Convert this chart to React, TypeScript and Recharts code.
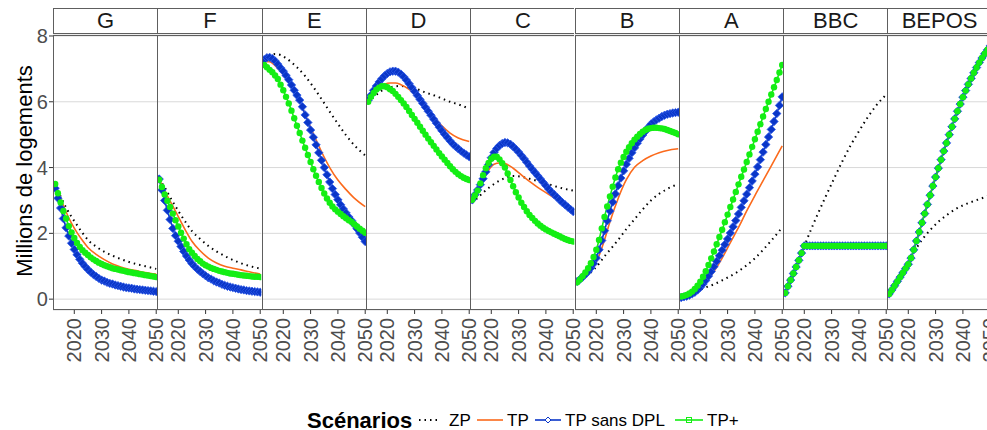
import { LineChart, Line, XAxis, YAxis, CartesianGrid } from 'recharts';

const FONT = '"Liberation Sans", Arial, Helvetica, sans-serif';

// yearly points (markers) and sparser points for the plain lines
const years = [
  2013, 2014, 2015, 2016, 2017, 2018, 2019, 2020, 2021, 2022,
  2023, 2024, 2025, 2026, 2027, 2028, 2029, 2030, 2031, 2032,
  2033, 2034, 2035, 2036, 2037, 2038, 2039, 2040, 2041, 2042,
  2043, 2044, 2045, 2046, 2047, 2048, 2049, 2050,
];
const lineYears = [2013, 2015, 2017, 2019, 2021, 2023, 2025, 2028, 2031, 2034, 2037, 2040, 2043, 2046, 2050];
const xTicks = [2020, 2030, 2040, 2050];
const yTicks = [0, 2, 4, 6, 8];

// G
const zpG = [3.45, 3.12, 2.78, 2.5, 2.25, 2.01, 1.8, 1.6, 1.44, 1.32, 1.22, 1.13, 1.06, 1.0, 0.92];
const tpG = [3.45, 3.05, 2.65, 2.3, 2.02, 1.78, 1.57, 1.36, 1.2, 1.07, 0.98, 0.91, 0.86, 0.81, 0.76];
const dplG = [
  3.37, 3.07, 2.77, 2.45, 2.17, 1.92, 1.7, 1.51, 1.35, 1.21,
  1.09, 0.99, 0.9, 0.82, 0.75, 0.69, 0.63, 0.58, 0.55, 0.51,
  0.48, 0.46, 0.43, 0.41, 0.39, 0.37, 0.35, 0.34, 0.33, 0.31,
  0.3, 0.29, 0.28, 0.27, 0.26, 0.25, 0.24, 0.23,
];
const tppG = [
  3.5, 3.22, 2.94, 2.68, 2.45, 2.22, 2.03, 1.86, 1.71, 1.59,
  1.49, 1.41, 1.34, 1.27, 1.21, 1.16, 1.11, 1.07, 1.03, 1.0,
  0.97, 0.94, 0.92, 0.9, 0.88, 0.86, 0.84, 0.82, 0.81, 0.79,
  0.78, 0.76, 0.75, 0.73, 0.72, 0.7, 0.69, 0.67,
];

// F
const zpF = [3.65, 3.4, 3.1, 2.82, 2.55, 2.3, 2.07, 1.83, 1.62, 1.45, 1.31, 1.19, 1.09, 1.01, 0.93];
const tpF = [3.65, 3.3, 2.98, 2.67, 2.35, 2.04, 1.76, 1.47, 1.25, 1.1, 1.0, 0.94, 0.89, 0.83, 0.76];
const dplF = [
  3.65, 3.32, 3.0, 2.7, 2.42, 2.15, 1.93, 1.76, 1.6, 1.45,
  1.31, 1.19, 1.08, 0.99, 0.91, 0.84, 0.77, 0.71, 0.65, 0.61,
  0.56, 0.52, 0.49, 0.45, 0.42, 0.39, 0.37, 0.35, 0.33, 0.31,
  0.29, 0.28, 0.26, 0.25, 0.24, 0.23, 0.22, 0.21,
];
const tppF = [
  3.63, 3.41, 3.18, 2.99, 2.8, 2.6, 2.4, 2.21, 2.02, 1.84,
  1.67, 1.52, 1.41, 1.31, 1.22, 1.15, 1.08, 1.03, 0.99, 0.95,
  0.92, 0.89, 0.86, 0.84, 0.82, 0.8, 0.78, 0.77, 0.76, 0.74,
  0.73, 0.72, 0.71, 0.7, 0.69, 0.68, 0.68, 0.67,
];

// E
const zpE = [7.28, 7.4, 7.45, 7.42, 7.33, 7.2, 7.05, 6.78, 6.45, 6.08, 5.7, 5.33, 4.98, 4.68, 4.37];
const tpE = [7.22, 7.22, 7.1, 6.92, 6.72, 6.48, 6.18, 5.62, 5.03, 4.48, 4.0, 3.62, 3.33, 3.07, 2.81];
const dplE = [
  7.28, 7.34, 7.35, 7.31, 7.24, 7.14, 7.03, 6.93, 6.8, 6.67,
  6.51, 6.35, 6.2, 6.05, 5.85, 5.6, 5.37, 5.14, 4.92, 4.69,
  4.45, 4.22, 4.0, 3.78, 3.56, 3.36, 3.18, 3.02, 2.87, 2.74,
  2.62, 2.5, 2.39, 2.27, 2.14, 2.01, 1.88, 1.75,
];
const tppE = [
  7.12, 7.05, 6.97, 6.9, 6.8, 6.69, 6.52, 6.35, 6.15, 5.95,
  5.73, 5.5, 5.27, 5.05, 4.82, 4.6, 4.38, 4.17, 3.95, 3.75,
  3.56, 3.38, 3.21, 3.06, 2.93, 2.82, 2.73, 2.66, 2.59, 2.52,
  2.46, 2.4, 2.35, 2.28, 2.21, 2.14, 2.08, 2.02,
];

// D
const zpD = [6.0, 6.14, 6.28, 6.38, 6.44, 6.47, 6.48, 6.44, 6.38, 6.28, 6.2, 6.1, 6.0, 5.92, 5.79];
const tpD = [6.05, 6.28, 6.44, 6.53, 6.57, 6.57, 6.52, 6.38, 6.15, 5.85, 5.55, 5.27, 5.05, 4.9, 4.79];
const dplD = [
  6.05, 6.2, 6.35, 6.48, 6.6, 6.7, 6.79, 6.86, 6.91, 6.93,
  6.93, 6.9, 6.84, 6.76, 6.66, 6.55, 6.43, 6.31, 6.19, 6.07,
  5.95, 5.83, 5.71, 5.59, 5.47, 5.35, 5.23, 5.12, 5.01, 4.91,
  4.81, 4.72, 4.64, 4.57, 4.5, 4.44, 4.38, 4.33,
];
const tppD = [
  6.0, 6.15, 6.27, 6.37, 6.43, 6.47, 6.47, 6.44, 6.38, 6.33,
  6.24, 6.15, 6.05, 5.95, 5.84, 5.72, 5.6, 5.48, 5.36, 5.24,
  5.12, 5.0, 4.88, 4.77, 4.66, 4.55, 4.44, 4.34, 4.24, 4.14,
  4.04, 3.95, 3.87, 3.8, 3.74, 3.69, 3.65, 3.62,
];

// C
const zpC = [2.92, 3.08, 3.24, 3.38, 3.5, 3.6, 3.68, 3.74, 3.72, 3.66, 3.59, 3.52, 3.44, 3.37, 3.3];
const tpC = [2.97, 3.25, 3.6, 3.92, 4.1, 4.14, 4.12, 3.98, 3.78, 3.58, 3.4, 3.24, 3.08, 2.92, 2.68];
const dplC = [
  3.02, 3.17, 3.32, 3.48, 3.66, 3.87, 4.09, 4.3, 4.46, 4.58,
  4.67, 4.73, 4.76, 4.75, 4.71, 4.64, 4.56, 4.47, 4.37, 4.27,
  4.16, 4.05, 3.95, 3.85, 3.75, 3.65, 3.55, 3.45, 3.35, 3.26,
  3.18, 3.1, 3.02, 2.94, 2.87, 2.8, 2.73, 2.66,
];
const tppC = [
  3.02, 3.15, 3.3, 3.52, 3.77, 3.98, 4.14, 4.27, 4.33, 4.33,
  4.25, 4.13, 4.0, 3.82, 3.62, 3.43, 3.25, 3.09, 2.93, 2.8,
  2.67, 2.56, 2.47, 2.38, 2.3, 2.23, 2.17, 2.12, 2.07, 2.03,
  1.99, 1.95, 1.91, 1.87, 1.83, 1.8, 1.77, 1.75,
];

// B
const zpB = [0.51, 0.62, 0.74, 0.89, 1.08, 1.3, 1.5, 1.8, 2.13, 2.43, 2.73, 3.0, 3.2, 3.35, 3.5];
const tpB = [0.49, 0.61, 0.78, 0.98, 1.32, 1.8, 2.35, 3.06, 3.63, 4.01, 4.21, 4.35, 4.45, 4.52, 4.57];
const dplB = [
  0.54, 0.6, 0.67, 0.75, 0.84, 0.95, 1.08, 1.25, 1.5, 1.78,
  2.08, 2.38, 2.68, 2.95, 3.2, 3.45, 3.68, 3.9, 4.1, 4.28,
  4.45, 4.6, 4.74, 4.87, 4.99, 5.1, 5.22, 5.32, 5.39, 5.45,
  5.5, 5.55, 5.59, 5.62, 5.64, 5.66, 5.67, 5.68,
];
const tppB = [
  0.51, 0.6, 0.7, 0.81, 0.94, 1.09, 1.28, 1.5, 1.8, 2.15,
  2.5, 2.82, 3.12, 3.42, 3.7, 3.95, 4.15, 4.32, 4.48, 4.62,
  4.74, 4.85, 4.94, 5.02, 5.09, 5.14, 5.18, 5.2, 5.21, 5.21,
  5.2, 5.19, 5.17, 5.14, 5.11, 5.08, 5.05, 5.01,
];

// A
const zpA = [0.04, 0.08, 0.15, 0.24, 0.32, 0.39, 0.45, 0.57, 0.7, 0.85, 1.03, 1.24, 1.5, 1.78, 2.18];
const tpA = [0.05, 0.08, 0.14, 0.24, 0.4, 0.6, 0.84, 1.25, 1.72, 2.18, 2.68, 3.15, 3.6, 4.05, 4.66];
const dplA = [
  0.05, 0.07, 0.09, 0.12, 0.16, 0.21, 0.28, 0.36, 0.46, 0.57,
  0.7, 0.84, 0.99, 1.15, 1.32, 1.49, 1.66, 1.83, 2.01, 2.2,
  2.39, 2.59, 2.79, 2.99, 3.19, 3.39, 3.59, 3.8, 4.02, 4.24,
  4.47, 4.7, 4.93, 5.16, 5.4, 5.64, 5.89, 6.15,
];
const tppA = [
  0.08, 0.1, 0.13, 0.17, 0.23, 0.31, 0.41, 0.53, 0.68, 0.85,
  1.04, 1.24, 1.45, 1.67, 1.89, 2.11, 2.34, 2.57, 2.8, 3.03,
  3.26, 3.49, 3.72, 3.94, 4.17, 4.4, 4.63, 4.86, 5.09, 5.32,
  5.55, 5.78, 6.0, 6.22, 6.44, 6.66, 6.89, 7.12,
];

// BBC
const zpBBC = [0.19, 0.6, 1.0, 1.4, 1.82, 2.22, 2.6, 3.15, 3.68, 4.2, 4.68, 5.1, 5.5, 5.85, 6.22];
const tpBBC = [0.19, 0.58, 0.98, 1.4, 1.62, 1.62, 1.62, 1.62, 1.62, 1.62, 1.62, 1.62, 1.62, 1.62, 1.62];
const tppBBC = [
  0.19, 0.39, 0.58, 0.78, 0.98, 1.18, 1.4, 1.62, 1.62, 1.62,
  1.62, 1.62, 1.62, 1.62, 1.62, 1.62, 1.62, 1.62, 1.62, 1.62,
  1.62, 1.62, 1.62, 1.62, 1.62, 1.62, 1.62, 1.62, 1.62, 1.62,
  1.62, 1.62, 1.62, 1.62, 1.62, 1.62, 1.62, 1.62,
];
const dplBBC = tppBBC;

// BEPOS
const zpBEPOS = [0.16, 0.41, 0.67, 0.93, 1.25, 1.55, 1.8, 2.1, 2.35, 2.55, 2.72, 2.85, 2.95, 3.04, 3.15];
const tpBEPOS = [0.16, 0.41, 0.67, 0.93, 1.25, 1.77, 2.32, 3.16, 3.98, 4.75, 5.48, 6.14, 6.71, 7.19, 7.7];
const tppBEPOS = [
  0.16, 0.28, 0.41, 0.54, 0.67, 0.8, 0.93, 1.06, 1.25, 1.5,
  1.77, 2.04, 2.32, 2.6, 2.88, 3.16, 3.44, 3.71, 3.98, 4.24,
  4.5, 4.75, 5.0, 5.24, 5.48, 5.71, 5.93, 6.14, 6.34, 6.53,
  6.71, 6.88, 7.04, 7.19, 7.33, 7.46, 7.58, 7.7,
];
const dplBEPOS = tppBEPOS;

const panels = [
  { name: 'G', zp: zpG, tp: tpG, dpl: dplG, tpp: tppG },
  { name: 'F', zp: zpF, tp: tpF, dpl: dplF, tpp: tppF },
  { name: 'E', zp: zpE, tp: tpE, dpl: dplE, tpp: tppE },
  { name: 'D', zp: zpD, tp: tpD, dpl: dplD, tpp: tppD },
  { name: 'C', zp: zpC, tp: tpC, dpl: dplC, tpp: tppC },
  { name: 'B', zp: zpB, tp: tpB, dpl: dplB, tpp: tppB },
  { name: 'A', zp: zpA, tp: tpA, dpl: dplA, tpp: tppA },
  { name: 'BBC', zp: zpBBC, tp: tpBBC, dpl: dplBBC, tpp: tppBBC },
  { name: 'BEPOS', zp: zpBEPOS, tp: tpBEPOS, dpl: dplBEPOS, tpp: tppBEPOS },
];

const BLUE = '#0a36c8';
const GREEN = '#14ee14';
const ORANGE = '#fb6a1c';
const BORDER = '#5e5e5e';

const X0 = 53;
const PW = 104.3;
const TOP = 34;
const PH = 276;
const XAXIS_H = 60;
const X_DOMAIN = [2012.2, 2050.4];
const Y_DOMAIN = [-0.33, 8.06];

const renderXTick = (props: any) => {
  const { x, y, payload } = props;
  return (
    <text
      x={x}
      y={y}
      transform={`rotate(-90, ${x}, ${y})`}
      textAnchor="end"
      dominantBaseline="central"
      fontSize={20}
      fill="#4d4d4d"
      fontFamily={FONT}
    >
      {payload.value}
    </text>
  );
};

const renderYTick = (props: any) => {
  const { x, y, payload } = props;
  return (
    <text x={x} y={y} textAnchor="end" dominantBaseline="central" fontSize={20} fill="#4d4d4d" fontFamily={FONT}>
      {payload.value}
    </text>
  );
};

const diamondDot = (props: any) => {
  const { cx, cy, index } = props;
  if (cx == null || cy == null) return <g key={`d-${index}`} />;
  const r = 4.2;
  return (
    <path
      key={`d-${index}`}
      d={`M${cx},${cy - r}L${cx + r},${cy}L${cx},${cy + r}L${cx - r},${cy}Z`}
      fill={BLUE}
      stroke="#2f5ae8"
      strokeWidth={0.8}
    />
  );
};

const circleDot = (props: any) => {
  const { cx, cy, index } = props;
  if (cx == null || cy == null) return <g key={`c-${index}`} />;
  return <circle key={`c-${index}`} cx={cx} cy={cy} r={3.2} fill={GREEN} stroke="none" />;
};

const Panel = ({ p, first }: { p: (typeof panels)[number]; first: boolean }) => {
  const rows = years.map((year, i) => {
    const j = lineYears.indexOf(year);
    return {
      year,
      zp: j >= 0 ? p.zp[j] : null,
      tp: j >= 0 ? p.tp[j] : null,
      dpl: p.dpl[i],
      tpp: p.tpp[i],
    };
  });
  const width = first ? X0 + PW : PW;
  return (
    <LineChart width={width} height={PH + XAXIS_H} data={rows} margin={{ top: 0, right: 0, bottom: 0, left: 0 }}>
      <CartesianGrid vertical={false} stroke="#d9d9d9" />
      <XAxis
        dataKey="year"
        type="number"
        domain={X_DOMAIN}
        ticks={xTicks}
        interval={0}
        allowDataOverflow
        height={XAXIS_H}
        tickSize={4}
        tickMargin={4}
        tickLine={{ stroke: '#333333' }}
        axisLine={false}
        tick={renderXTick}
      />
      {first ? (
        <YAxis
          type="number"
          domain={Y_DOMAIN}
          ticks={yTicks}
          interval={0}
          allowDataOverflow
          width={X0}
          tickSize={4}
          tickMargin={1}
          tickLine={{ stroke: '#333333' }}
          axisLine={false}
          tick={renderYTick}
        />
      ) : (
        <YAxis hide type="number" domain={Y_DOMAIN} ticks={yTicks} interval={0} allowDataOverflow />
      )}
      <Line
        dataKey="zp"
        type="monotone"
        connectNulls
        stroke="#000000"
        strokeWidth={2}
        strokeDasharray="1.5 4"
        dot={false}
        activeDot={false}
        isAnimationActive={false}
      />
      <Line
        dataKey="tp"
        type="monotone"
        connectNulls
        stroke={ORANGE}
        strokeWidth={1.6}
        dot={false}
        activeDot={false}
        isAnimationActive={false}
      />
      <Line
        dataKey="dpl"
        type="monotone"
        stroke={BLUE}
        strokeWidth={1.6}
        dot={diamondDot}
        activeDot={false}
        isAnimationActive={false}
      />
      <Line
        dataKey="tpp"
        type="monotone"
        stroke={GREEN}
        strokeWidth={1.6}
        dot={circleDot}
        activeDot={false}
        isAnimationActive={false}
      />
    </LineChart>
  );
};

export default function App() {
  return (
    <div
      style={{
        position: 'absolute',
        left: 0,
        top: 0,
        width: 987,
        height: 430,
        overflow: 'hidden',
        background: '#ffffff',
        fontFamily: FONT,
      }}
    >
      <style>{`.recharts-surface{overflow:visible}`}</style>

      {panels.map((p, i) => (
        <div
          key={p.name}
          style={{ position: 'absolute', top: TOP, left: i === 0 ? 0 : X0 + i * PW }}
        >
          <Panel p={p} first={i === 0} />
        </div>
      ))}

      {/* strips and panel frames */}
      {panels.map((p, i) => (
        <div key={`strip-${p.name}`}>
          <div
            style={{
              position: 'absolute',
              left: X0 + i * PW,
              top: 8,
              width: PW,
              height: TOP - 8,
              boxSizing: 'border-box',
              borderTop: `1px solid ${BORDER}`,
              borderBottom: `1px solid ${BORDER}`,
              borderLeft: `1px solid ${BORDER}`,
              borderRight: i === panels.length - 1 ? `1px solid ${BORDER}` : 'none',
              textAlign: 'center',
              fontSize: 22,
              lineHeight: `${TOP - 10}px`,
              color: '#1a1a1a',
              background: '#ffffff',
            }}
          >
            {p.name}
          </div>
          <div
            style={{
              position: 'absolute',
              left: X0 + i * PW,
              top: TOP + 1,
              width: PW,
              height: PH - 1,
              boxSizing: 'border-box',
              borderTop: `1px solid ${BORDER}`,
              borderBottom: `1px solid ${BORDER}`,
              borderLeft: `1px solid ${BORDER}`,
              borderRight: i === panels.length - 1 ? `1px solid ${BORDER}` : 'none',
              pointerEvents: 'none',
            }}
          />
        </div>
      ))}

      {/* y axis title */}
      <div
        style={{
          position: 'absolute',
          left: 25,
          top: 171,
          transform: 'translate(-50%, -50%) rotate(-90deg)',
          whiteSpace: 'nowrap',
          fontSize: 22,
          color: '#000',
        }}
      >
        Millions de logements
      </div>

      {/* legend */}
      <svg style={{ position: 'absolute', left: 300, top: 400 }} width={460} height={30} fontFamily={FONT}>
        <text x={7} y={20} dominantBaseline="central" fontSize={22} fontWeight="bold" fill="#000">
          Scénarios
        </text>
        <line x1={119} y1={20} x2={141} y2={20} stroke="#000" strokeWidth={2} strokeDasharray="1.5 4" />
        <text x={149} y={20} dominantBaseline="central" fontSize={17} fill="#000">ZP</text>
        <line x1={177} y1={20} x2={203} y2={20} stroke={ORANGE} strokeWidth={1.6} />
        <text x={207} y={20} dominantBaseline="central" fontSize={17} fill="#000">TP</text>
        <line x1={235} y1={20} x2={261} y2={20} stroke={BLUE} strokeWidth={1.6} />
        <path d="M248,17L251,20L248,23L245,20Z" fill="#ffffff" stroke={BLUE} strokeWidth={1} />
        <text x={265} y={20} dominantBaseline="central" fontSize={17} fill="#000">TP sans DPL</text>
        <line x1={375} y1={20} x2={403} y2={20} stroke={GREEN} strokeWidth={1.6} />
        <rect x={386.5} y={17.5} width={5} height={5} fill="none" stroke={GREEN} strokeWidth={1} />
        <text x={407} y={20} dominantBaseline="central" fontSize={17} fill="#000">TP+</text>
      </svg>
    </div>
  );
}
